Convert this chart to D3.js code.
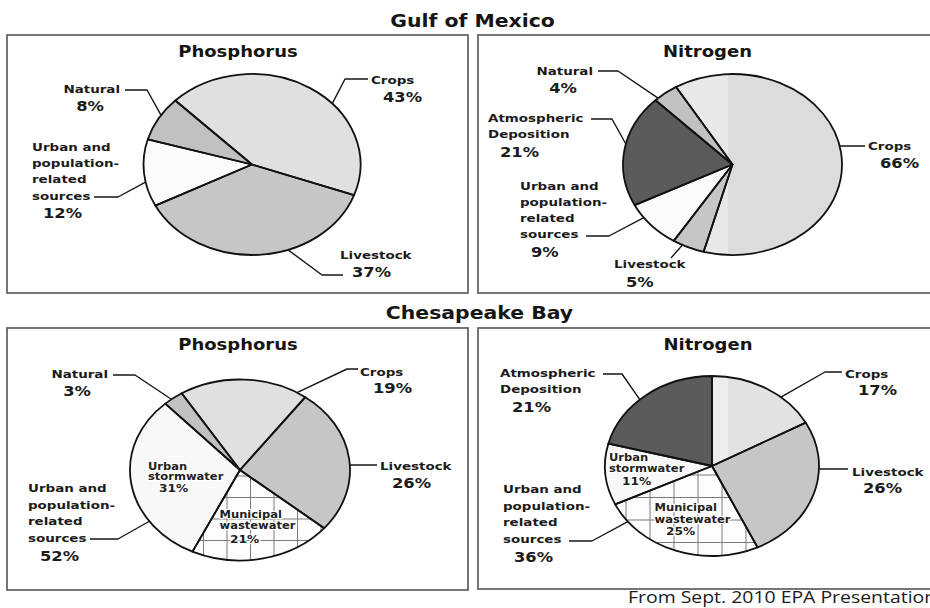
<!DOCTYPE html>
<html><head><meta charset="utf-8">
<script src="https://cdn.jsdelivr.net/npm/d3@7"></script>
<style>
html,body{margin:0;padding:0;background:#fff;}
svg{display:block;}
</style></head>
<body><svg id="chart" width="930" height="608"></svg>
<script>
// ---------------- data ----------------
const regionTitles = ["Gulf of Mexico", "Chesapeake Bay"];
const nutrientTitles = ["Phosphorus", "Nitrogen"];

const gulfPhosphorusSources = ["Crops", "Livestock", "Urban and population-related sources", "Natural"];
const gulfPhosphorusPct = [43, 37, 12, 8];

const gulfNitrogenSources = ["Crops", "Livestock", "Urban and population-related sources", "Atmospheric Deposition", "Natural"];
const gulfNitrogenPct = [66, 5, 9, 21, 4];

const chesPhosphorusSources = ["Crops", "Livestock", "Municipal wastewater", "Urban stormwater", "Natural"];
const chesPhosphorusPct = [19, 26, 21, 31, 3];

const chesNitrogenSources = ["Crops", "Livestock", "Municipal wastewater", "Urban stormwater", "Atmospheric Deposition"];
const chesNitrogenPct = [17, 26, 25, 11, 21];

const urbanGroupName = "Urban and population-related sources";
const urbanParts = ["Municipal wastewater", "Urban stormwater"];
const sourceNote = "From Sept. 2010 EPA Presentation";

const labelLines = {
  "Urban and population-related sources": ["Urban and", "population-", "related", "sources"],
  "Atmospheric Deposition": ["Atmospheric", "Deposition"],
  "Municipal wastewater": ["Municipal", "wastewater"],
  "Urban stormwater": ["Urban", "stormwater"]
};

// ---------------- styles ----------------
const K = 1.2; // horizontal stretch of the reference picture
const FONT = "'DejaVu Sans', Verdana, sans-serif";
const fills = {
  "Crops": "#e0e0e0",
  "Livestock": "#c6c6c6",
  "Natural": "#c1c1c1",
  "Urban and population-related sources": "#fbfbfb",
  "Atmospheric Deposition": "#5b5b5b",
  "Urban stormwater": "#f8f8f8",
  "Municipal wastewater": "#fdfdfd"
};

// ---------------- layout ----------------
const panels = [
  { region: 0, nutrient: 0, sources: gulfPhosphorusSources, pct: gulfPhosphorusPct,
    box: [7, 35, 468, 293], title: [238, 57],
    pie: { cx: 252, cy: 164.5, rx: 108.5, ry: 90.5, start: -45 },
    labels: {
      "Natural": { tx: 120, ty: 93, anchor: "end", px: 90, py: 111, panchor: "middle", lead: [[125, 90], [147, 90]], touch: 303 },
      "Crops": { tx: 371, ty: 84, px: 383, py: 102, lead: [[368, 79], [345, 79]], touch: 47.7 },
      "Urban and population-related sources": { tx: 32, ty: 150.5, lh: 16.4, px: 43, py: 218, lead: [[94, 197], [118, 197]], touch: 258.8 },
      "Livestock": { tx: 340, ty: 259, px: 352, py: 277, lead: [[343, 275], [322, 275]], touch: 160.6 }
    } },
  { region: 0, nutrient: 1, sources: gulfNitrogenSources, pct: gulfNitrogenPct,
    box: [478, 35, 945, 293], title: [707.5, 57],
    pie: { cx: 732.5, cy: 164.5, rx: 109.5, ry: 90.5, start: -31 },
    cropSplit: { x: 728, fill: "#e8e8e8", right: "#dcdcdc" },
    labels: {
      "Natural": { tx: 593, ty: 75, anchor: "end", px: 563, py: 93, panchor: "middle", lead: [[598, 71], [618, 71]], touch: 317.2 },
      "Atmospheric Deposition": { tx: 488, ty: 122, lh: 16, px: 500, py: 157, lead: [[591, 119], [612, 119]], touch: 283.1 },
      "Urban and population-related sources": { tx: 520, ty: 190, lh: 16, px: 531, py: 257, lead: [[586, 236], [609, 236]], touch: 234.1 },
      "Livestock": { tx: 614, ty: 268, px: 626, py: 287, lead: [[671, 258]], touch: 207.2 },
      "Crops": { tx: 868, ty: 150, px: 880, py: 168, lead: [[865, 146]], touch: 78.2 }
    } },
  { region: 1, nutrient: 0, sources: chesPhosphorusSources, pct: chesPhosphorusPct,
    box: [7, 328, 468, 590], title: [238, 350],
    pie: { cx: 240, cy: 470, rx: 110, ry: 90.5, start: -32 },
    grid: { x0: 203.5, dx: 23.5, y0: 476, dy: 21.5 },
    labels: {
      "Natural": { tx: 108, ty: 378, anchor: "end", px: 77, py: 396, panchor: "middle", lead: [[113, 375], [135, 375]], touch: 321.4 },
      "Crops": { tx: 360, ty: 376, px: 373, py: 393, lead: [[358, 369], [347, 369]], touch: 31.2 },
      "Livestock": { tx: 380, ty: 470, px: 392, py: 488, lead: [[377, 465]], touch: 86.8 },
      "Urban and population-related sources": { tx: 28, ty: 492, lh: 16.5, px: 40, py: 561, lead: [[90, 539], [118, 539]], touch: 235.5 }
    },
    inner: {
      "Urban stormwater": { tx: 148, ty: 469.5, lh: 10.5, px: 159, py: 492 },
      "Municipal wastewater": { tx: 219.5, ty: 518, lh: 11, px: 230, py: 542.5 }
    } },
  { region: 1, nutrient: 1, sources: chesNitrogenSources, pct: chesNitrogenPct,
    box: [478, 328, 945, 589], title: [708, 350],
    pie: { cx: 712, cy: 466, rx: 107, ry: 90, start: 0 },
    cropSplit: { x: 728, fill: "#ededed", right: "#e2e2e2" },
    grid: { x0: 626, dx: 24, y0: 475, dy: 22.5 },
    labels: {
      "Atmospheric Deposition": { tx: 500, ty: 377, lh: 16, px: 512, py: 412, lead: [[603, 374], [622, 374]], touch: 317.6 },
      "Crops": { tx: 845, ty: 378, px: 858, py: 395, lead: [[842, 372], [825, 372]], touch: 40.1 },
      "Livestock": { tx: 852, ty: 476, px: 863, py: 493, lead: [[848, 469]], touch: 91.9 },
      "Urban and population-related sources": { tx: 503, ty: 493, lh: 16.7, px: 514, py: 562, lead: [[569, 541], [592, 541]], touch: 231.9 }
    },
    inner: {
      "Urban stormwater": { tx: 609, ty: 461, lh: 11, px: 622, py: 485 },
      "Municipal wastewater": { tx: 654.5, ty: 511, lh: 12, px: 666, py: 535 }
    } }
];
const regionTitlePos = [[472.5, 27], [479.5, 319]];

// ---------------- drawing ----------------
const svg = d3.select("#chart");
const defs = svg.append("defs");

function stretchedText(parent, x, y, str, size, opts = {}) {
  return parent.append("text")
    .attr("transform", `translate(${x},${y}) scale(${K},1)`)
    .attr("text-anchor", opts.anchor || "start")
    .style("font-family", opts.family || FONT)
    .style("font-weight", opts.weight || "bold")
    .style("font-size", size + "px")
    .attr("fill", opts.fill || "#1b1b1b")
    .text(str);
}

// region titles
regionTitles.forEach((t, i) => stretchedText(svg, regionTitlePos[i][0], regionTitlePos[i][1], t, 17, { anchor: "middle", fill: "#151515" }));

const lineGen = d3.line();

panels.forEach((p, pi) => {
  const g = svg.append("g");
  const [x0, y0, x1, y1] = p.box;
  g.append("rect").attr("x", x0).attr("y", y0).attr("width", x1 - x0).attr("height", y1 - y0)
    .attr("fill", "none").attr("stroke", "#5e5e5e").attr("stroke-width", 1.7);

  stretchedText(g, p.title[0], p.title[1], nutrientTitles[p.nutrient], 15, { anchor: "middle", fill: "#151515" });

  const { cx, cy, rx, ry, start } = p.pie;
  const sx = rx / ry;
  const a0 = start * Math.PI / 180;
  const pie = d3.pie().sort(null).value(d => d.value).startAngle(a0).endAngle(a0 + 2 * Math.PI);
  const arcs = pie(p.sources.map((s, i) => ({ name: s, value: p.pct[i] })));
  const arc = d3.arc().innerRadius(0).outerRadius(ry);
  const pieTransform = `translate(${cx},${cy}) scale(${sx},1)`;

  // fills
  const pg = g.append("g").attr("transform", pieTransform);
  pg.selectAll("path.fill").data(arcs).join("path")
    .attr("class", "fill")
    .attr("d", arc)
    .attr("fill", d => (d.data.name === "Crops" && p.cropSplit) ? p.cropSplit.right : fills[d.data.name]);

  // lighter strip in crops (scan artifact of the reference)
  if (p.cropSplit) {
    const crop = arcs.find(d => d.data.name === "Crops");
    const id = "cropclip" + pi;
    defs.append("clipPath").attr("id", id).append("path").attr("d", arc(crop)).attr("transform", pieTransform);
    g.append("rect").attr("x", cx - rx - 2).attr("y", cy - ry - 2)
      .attr("width", p.cropSplit.x - (cx - rx - 2)).attr("height", 2 * ry + 4)
      .attr("fill", p.cropSplit.fill).attr("clip-path", `url(#${id})`);
  }

  // grid hatch in municipal wastewater slice
  if (p.grid) {
    const muni = arcs.find(d => d.data.name === "Municipal wastewater");
    const id = "municlip" + pi;
    defs.append("clipPath").attr("id", id).append("path").attr("d", arc(muni)).attr("transform", pieTransform);
    const gg = g.append("g").attr("clip-path", `url(#${id})`);
    const left = cx - rx, right = cx + rx, top = cy - ry, bottom = cy + ry;
    const vx = d3.range(p.grid.x0 - Math.ceil((p.grid.x0 - left) / p.grid.dx) * p.grid.dx, right, p.grid.dx);
    const hy = d3.range(p.grid.y0 - Math.ceil((p.grid.y0 - top) / p.grid.dy) * p.grid.dy, bottom, p.grid.dy);
    gg.selectAll("line.v").data(vx).join("line").attr("class", "v")
      .attr("x1", d => d).attr("x2", d => d).attr("y1", top).attr("y2", bottom)
      .attr("stroke", "#7a7a7a").attr("stroke-width", 1);
    gg.selectAll("line.h").data(hy).join("line").attr("class", "h")
      .attr("y1", d => d).attr("y2", d => d).attr("x1", left).attr("x2", right)
      .attr("stroke", "#7a7a7a").attr("stroke-width", 1);
  }

  // outlines
  const og = g.append("g").attr("transform", pieTransform);
  og.selectAll("path.edge").data(arcs).join("path")
    .attr("class", "edge")
    .attr("d", arc)
    .attr("fill", "none")
    .attr("stroke", "#111")
    .attr("stroke-width", 1.8)
    .attr("stroke-linejoin", "round")
    .attr("vector-effect", "non-scaling-stroke");

  const valueOf = name => {
    if (name === urbanGroupName && !p.sources.includes(name)) {
      return d3.sum(urbanParts, u => p.pct[p.sources.indexOf(u)]);
    }
    return p.pct[p.sources.indexOf(name)];
  };

  // inner labels
  if (p.inner) {
    Object.entries(p.inner).forEach(([name, L]) => {
      const lines = labelLines[name] || [name];
      const halo = t => t.attr("stroke", "#fff").attr("stroke-width", 2.4).attr("paint-order", "stroke").attr("stroke-linejoin", "round");
      lines.forEach((ln, li) => halo(stretchedText(g, L.tx, L.ty + li * L.lh, ln, 9.6, { fill: "#222" })));
      halo(stretchedText(g, L.px, L.py, valueOf(name) + "%", 10.2, { fill: "#222" }));
    });
  }

  // outside labels + leader lines
  Object.entries(p.labels).forEach(([name, L]) => {
    const a = L.touch * Math.PI / 180;
    const end = [cx + rx * Math.sin(a), cy - ry * Math.cos(a)];
    g.append("path").attr("d", lineGen([...L.lead, end]))
      .attr("fill", "none").attr("stroke", "#151515").attr("stroke-width", 1.4).attr("stroke-linejoin", "round");
    const lines = labelLines[name] || [name];
    lines.forEach((ln, li) => stretchedText(g, L.tx, L.ty + li * (L.lh || 16), ln, 11.2, { anchor: L.anchor || "start" }));
    stretchedText(g, L.px, L.py, valueOf(name) + "%", 13.6, { anchor: L.panchor || "start" });
  });
});

// source note
stretchedText(svg, 628, 603, sourceNote, 16.2, { family: "'Open Sans', sans-serif", weight: "normal", fill: "#1b1b1b" });
</script>
</body></html>
